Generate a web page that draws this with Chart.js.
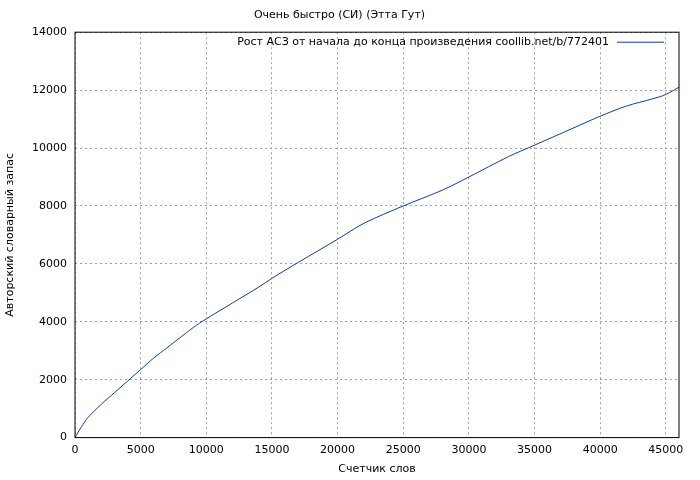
<!DOCTYPE html>
<html><head><meta charset="utf-8">
<script src="https://cdn.jsdelivr.net/npm/chart.js@4"></script>
<style>body{margin:0;background:#fff}#wrap{width:700px;height:480px}</style>
</head><body><div id="wrap"><canvas id="myChart"></canvas></div>
<script>
const words = [0,500,1000,2000,3000,4000,5000,6000,7000,8000,9000,10000,12000,14000,15000,17000,20000,22000,25000,28000,30000,33000,35000,38000,40000,42000,44000,45000,46000];
const vocab = [0,380,700,1150,1550,1950,2350,2750,3100,3450,3800,4100,4650,5200,5500,6050,6850,7400,8000,8550,9000,9700,10100,10700,11100,11450,11700,11850,12100];
const xTicks = [0,5000,10000,15000,20000,25000,30000,35000,40000,45000];
const legendText = 'Рост АСЗ от начала до конца произведения coollib.net/b/772401';

const legendPlugin = {
  id: 'gpLegend',
  afterDraw(chart) {
    const {ctx, chartArea} = chart;
    ctx.save();
    ctx.font = '11px "DejaVu Sans"';
    ctx.fillStyle = '#000';
    ctx.textAlign = 'right';
    ctx.textBaseline = 'middle';
    const y = chartArea.top + 10;
    ctx.fillText(legendText, chartArea.right - 70, y);
    ctx.strokeStyle = '#0a3fa8';
    ctx.lineWidth = 1;
    ctx.beginPath();
    ctx.moveTo(chartArea.right - 62, y);
    ctx.lineTo(chartArea.right - 15, y);
    ctx.stroke();
    ctx.strokeStyle = '#000';
    ctx.strokeRect(chartArea.left, chartArea.top, chartArea.right - chartArea.left, chartArea.bottom - chartArea.top);
    ctx.restore();
  }
};

const grid = {color: '#a0a0a0', drawTicks: false};
const border = {display: false, dash: [2, 3]};
const font = {family: 'DejaVu Sans', size: 11};
new Chart(document.getElementById('myChart'), {
  type: 'line',
  data: {
    datasets: [{
      data: words.map((w, i) => ({x: w, y: vocab[i]})),
      borderColor: '#0a3fa8', borderWidth: 1, pointRadius: 0, tension: 0.3
    }]
  },
  options: {
    animation: false, responsive: true, maintainAspectRatio: false,
    layout: {padding: {right: 21, top: 0}},
    plugins: {
      legend: {display: false},
      title: {display: true, text: 'Очень быстро (СИ) (Этта Гут)', color: '#000',
        font: {family: 'DejaVu Sans', size: 11, weight: 'normal'}, padding: {top: 9, bottom: 10}}
    },
    scales: {
      x: {type: 'linear', min: 0, max: 46000,
        afterBuildTicks(s) { s.ticks = xTicks.map(v => ({value: v})); },
        ticks: {color: '#000', font, padding: 6, maxRotation: 0, autoSkip: false, callback: v => String(v)},
        grid, border,
        title: {display: true, text: 'Счетчик слов', color: '#000', font, padding: {top: 0}}},
      y: {min: 0, max: 14000,
        ticks: {stepSize: 2000, color: '#000', font, padding: 8, callback: v => String(v)},
        grid, border,
        afterFit(s) { s.width = 75; },
        title: {display: true, text: 'Авторский словарный запас', color: '#000', font}}
    }
  },
  plugins: [legendPlugin]
});
</script></body></html>
